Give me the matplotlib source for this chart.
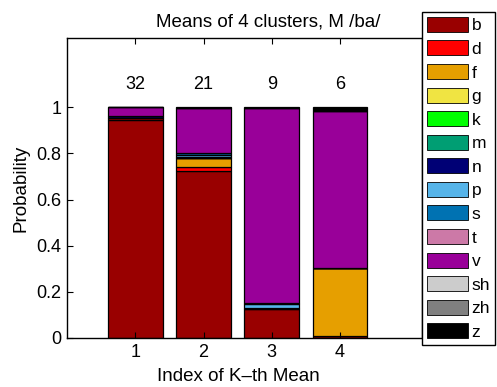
import matplotlib
matplotlib.use("Agg")
import matplotlib.pyplot as plt
from matplotlib.patches import Patch
import numpy as np

plt.rcParams['font.family'] = ['Liberation Sans', 'DejaVu Sans']

# Phoneme classes, stacked bottom to top
phonemes = ['b', 'd', 'f', 'g', 'k', 'm', 'n', 'p', 's', 't', 'v', 'sh', 'zh', 'z']
colors = ['#990000', '#ff0000', '#e69f00', '#f0e442', '#00ff00', '#009e73',
          '#000075', '#56b4e9', '#0072b2', '#cc79a7', '#990099', '#cccccc',
          '#808080', '#000000']

clusters = [1, 2, 3, 4]
counts = [32, 21, 9, 6]

# Probability of each phoneme within each cluster mean (columns = clusters 1..4)
probs = {
    'b':  [0.945, 0.725, 0.125, 0.010],
    'd':  [0.010, 0.015, 0.000, 0.000],
    'f':  [0.000, 0.038, 0.007, 0.295],
    'g':  [0.000, 0.000, 0.000, 0.000],
    'k':  [0.000, 0.000, 0.000, 0.000],
    'm':  [0.000, 0.000, 0.000, 0.000],
    'n':  [0.008, 0.008, 0.000, 0.000],
    'p':  [0.000, 0.008, 0.015, 0.000],
    's':  [0.000, 0.006, 0.005, 0.000],
    't':  [0.000, 0.000, 0.000, 0.000],
    'v':  [0.037, 0.195, 0.843, 0.678],
    'sh': [0.000, 0.000, 0.000, 0.000],
    'zh': [0.000, 0.000, 0.000, 0.000],
    'z':  [0.000, 0.005, 0.005, 0.017],
}

W, H = 497, 387
fig = plt.figure(figsize=(W / 100, H / 100), dpi=100)
ax = fig.add_axes([67 / W, (H - 338) / H, (422 - 67) / W, 300 / H])

x = np.array(clusters, dtype=float)
bottom = np.zeros(len(clusters))
for ph, col in zip(phonemes, colors):
    vals = np.array(probs[ph])
    ax.bar(x, vals, width=0.8, bottom=bottom, color=col,
           edgecolor='black', linewidth=0.9)
    bottom += vals

for xi, n in zip(x, counts):
    ax.text(xi, 1.1, str(n), ha='center', va='center', fontsize=13)

ax.set_xlim(0, 5.2)
ax.set_ylim(0, 1.3)
ax.set_xticks(x)
ax.set_xticklabels([str(c) for c in clusters])
ax.set_yticks([0, 0.2, 0.4, 0.6, 0.8, 1.0])
ax.set_yticklabels(['0', '0.2', '0.4', '0.6', '0.8', '1'])
ax.tick_params(direction='in', top=True, right=False, labelsize=13,
               length=4, width=0.8, pad=4)
for sp in ax.spines.values():
    sp.set_linewidth(1.0)

ax.set_xlabel('Index of K\u2013th Mean', fontsize=13.5)
ax.xaxis.set_label_coords((238 - 67) / 355, -0.1)
ax.set_ylabel('Probability', fontsize=13.5)
ax.yaxis.set_label_coords(-0.107, 0.5)
ax.set_title('Means of 4 clusters, M /ba/', fontsize=13.5, x=(268 - 67) / 355,
             pad=8)

handles = [Patch(facecolor=c, edgecolor='black', linewidth=0.6) for c in colors]
leg = fig.legend(handles, phonemes, loc='upper left',
                 bbox_to_anchor=(422 / W, 1 - 11.7 / H),
                 bbox_transform=fig.transFigure, fontsize=12.5,
                 handlelength=2.35, handleheight=0.95, handletextpad=0.2,
                 labelspacing=0.41, borderpad=0.3, borderaxespad=0,
                 fancybox=False, framealpha=1)
leg.get_frame().set_edgecolor('black')
leg.get_frame().set_linewidth(1.0)

fig.savefig('out.png', dpi=100)
